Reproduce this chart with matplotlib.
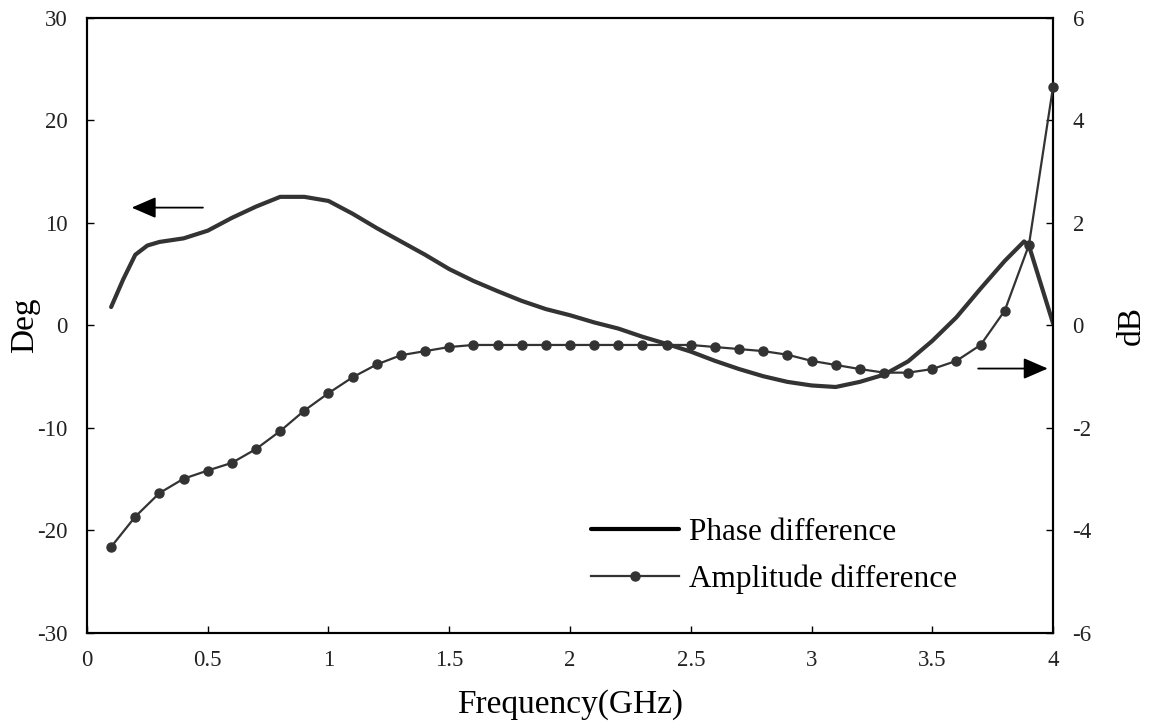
import numpy as np
import matplotlib
matplotlib.use("Agg")
import matplotlib.pyplot as plt

plt.rcParams['font.family'] = ['Liberation Serif', 'DejaVu Serif']
plt.rcParams['axes.unicode_minus'] = False

# phase difference (deg), left axis
phase_f = [0.1, 0.15, 0.2, 0.25, 0.3, 0.4, 0.5, 0.6, 0.7, 0.8, 0.9, 1.0,
           1.1, 1.2, 1.3, 1.4, 1.5, 1.6, 1.7, 1.8, 1.9, 2.0, 2.1, 2.2,
           2.3, 2.4, 2.5, 2.6, 2.7, 2.8, 2.9, 3.0, 3.1, 3.2, 3.3, 3.4,
           3.5, 3.6, 3.7, 3.8, 3.88, 3.9, 4.0]
phase = [1.8, 4.5, 6.9, 7.8, 8.15, 8.5, 9.25, 10.5, 11.6, 12.55, 12.55, 12.15,
         10.9, 9.5, 8.2, 6.9, 5.5, 4.35, 3.35, 2.4, 1.6, 1.0, 0.3, -0.3,
         -1.1, -1.8, -2.55, -3.45, -4.25, -4.95, -5.5, -5.85, -6.0, -5.5, -4.8, -3.5,
         -1.5, 0.8, 3.6, 6.3, 8.2, 7.8, 0.2]

# amplitude difference (dB), right axis
amp_f = [0.1, 0.2, 0.3, 0.4, 0.5, 0.6, 0.7, 0.8, 0.9, 1.0,
         1.1, 1.2, 1.3, 1.4, 1.5, 1.6, 1.7, 1.8, 1.9, 2.0,
         2.1, 2.2, 2.3, 2.4, 2.5, 2.6, 2.7, 2.8, 2.9, 3.0,
         3.1, 3.2, 3.3, 3.4, 3.5, 3.6, 3.7, 3.8, 3.9, 4.0]
amp = [-4.32, -3.73, -3.27, -2.99, -2.83, -2.68, -2.41, -2.06, -1.66, -1.32,
       -1.01, -0.76, -0.58, -0.5, -0.42, -0.38, -0.38, -0.38, -0.38, -0.38,
       -0.38, -0.38, -0.38, -0.38, -0.38, -0.42, -0.46, -0.5, -0.57, -0.69,
       -0.77, -0.85, -0.92, -0.92, -0.85, -0.69, -0.38, 0.29, 1.57, 4.66]

col = '#333333'

fig = plt.figure(figsize=(11.49, 7.28), dpi=100)
ax = fig.add_axes([0.0757, 0.1305, 0.8408, 0.8448])
ax2 = ax.twinx()

l1, = ax.plot(phase_f, phase, color=col, lw=3.0, solid_capstyle='round',
              label='Phase difference', zorder=3)
l2, = ax2.plot(amp_f, amp, color=col, lw=1.6, marker='o', ms=6.5,
               label='Amplitude difference', zorder=3, clip_on=False)

ax.set_xlim(0, 4)
ax.set_ylim(-30, 30)
ax2.set_ylim(-6, 6)
ax.set_xticks(np.arange(0, 4.01, 0.5))
ax.set_xticklabels(['0', '0.5', '1', '1.5', '2', '2.5', '3', '3.5', '4'])
ax.set_yticks(np.arange(-30, 31, 10))
ax2.set_yticks(np.arange(-6, 7, 2))

for a in (ax, ax2):
    for s in a.spines.values():
        s.set_linewidth(1.5)
        s.set_color('black')
ax.tick_params(axis='both', direction='in', length=5, width=1, labelsize=16.5,
               labelcolor='#222222')
ax.tick_params(axis='y', pad=14)
ax.tick_params(axis='x', pad=12)
ax2.tick_params(axis='y', direction='in', length=5, width=1, labelsize=16.5,
                pad=14, labelcolor='#222222')

ax.set_xlabel('Frequency(GHz)', fontsize=24, va='center')
ax.set_ylabel('Deg', fontsize=24, va='center')
ax2.set_ylabel('dB', fontsize=24, va='center')
ax.xaxis.set_label_coords(0.5, -0.117)
ax.yaxis.set_label_coords(-0.064, 0.5)
ax2.yaxis.set_label_coords(1.081, 0.5)

# direction arrows
arrow = dict(arrowstyle='-|>,head_length=1.5,head_width=0.65',
             color='black', lw=1.3, shrinkA=0, shrinkB=0)
ax.annotate('', xy=(0.185, 11.5), xytext=(0.48, 11.5), arrowprops=arrow)
ax.annotate('', xy=(3.978, -4.2), xytext=(3.69, -4.2), arrowprops=arrow)

leg = ax.legend([l1, l2], ['Phase difference', 'Amplitude difference'],
                loc='center left', bbox_to_anchor=(0.522, 0.125),
                frameon=False, fontsize=22.5, handlelength=2.8,
                handletextpad=0.32, labelspacing=0.57, borderpad=0,
                borderaxespad=0)
leg.get_lines()[0].set_color('black')

fig.savefig('out.png', dpi=100)
